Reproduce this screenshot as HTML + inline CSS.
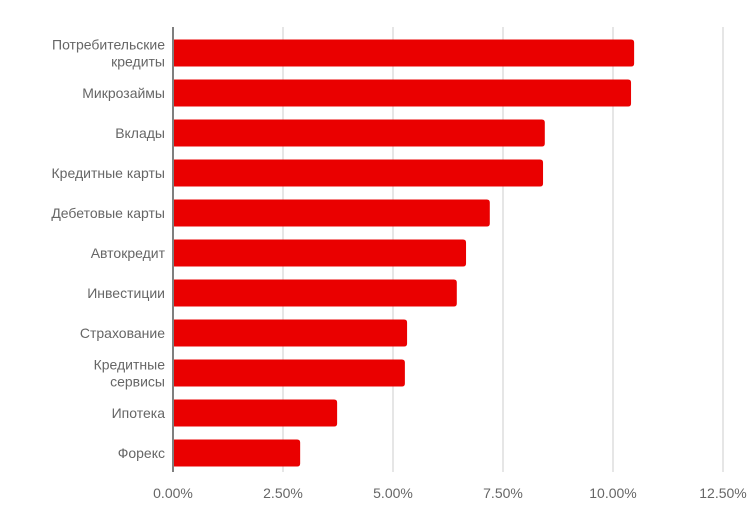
<!DOCTYPE html>
<html><head><meta charset="utf-8"><style>
body{margin:0;background:#fff;}
svg{display:block;font-family:"Liberation Sans",Arial,sans-serif;}
</style></head><body>
<svg id="chart" width="750" height="528"></svg>
<script>
const categories=[["Потребительские","кредиты"],["Микрозаймы"],["Вклады"],["Кредитные карты"],["Дебетовые карты"],["Автокредит"],["Инвестиции"],["Страхование"],["Кредитные","сервисы"],["Ипотека"],["Форекс"]];
const values=[10.48,10.41,8.45,8.41,7.2,6.66,6.45,5.32,5.27,3.73,2.89];
const ticks=[0,2.5,5,7.5,10,12.5];
const tickLabels=["0.00%","2.50%","5.00%","7.50%","10.00%","12.50%"];
const NS="http://www.w3.org/2000/svg";
const svg=document.getElementById('chart');
const x0=173,pxPer=44,top0=27,bottom0=472,rowH=40,barH=27;
const xs=v=>x0+v*pxPer;
const yc=i=>53+i*rowH;
function mk(t,a,p){const e=document.createElementNS(NS,t);for(const k in a)e.setAttribute(k,a[k]);(p||svg).appendChild(e);return e;}
ticks.forEach((t,i)=>{
  if(i>0){const g=mk('line',{x1:xs(t),x2:xs(t),y1:top0,y2:bottom0,stroke:'#cccccc','stroke-width':1});
  
  }
  const l=mk('text',{x:xs(t),y:498,'text-anchor':'middle','font-size':14,fill:'#666'});
  l.textContent=tickLabels[i];
  
  
});
values.forEach((v,i)=>{
  const w=xs(v)-x0-1,y=yc(i)-barH/2,r=3;
  const p=mk('path',{d:`M${x0+1},${y}H${x0+1+w-r}Q${x0+1+w},${y} ${x0+1+w},${y+r}V${y+barH-r}Q${x0+1+w},${y+barH} ${x0+1+w-r},${y+barH}H${x0+1}Z`,fill:'#ea0000'});
  
  
  const lines=categories[i];
  const t=mk('text',{x:165,'text-anchor':'end','font-size':14,fill:'#666'});
  
  
  lines.forEach((s,j)=>{const ts=mk('tspan',{x:165,y:yc(i)+5+(j-(lines.length-1)/2)*17},t);ts.textContent=s;});
});
const ax=mk('line',{x1:x0,x2:x0,y1:top0,y2:bottom0,stroke:'#555','stroke-width':1.5});


</script>
</body></html>
